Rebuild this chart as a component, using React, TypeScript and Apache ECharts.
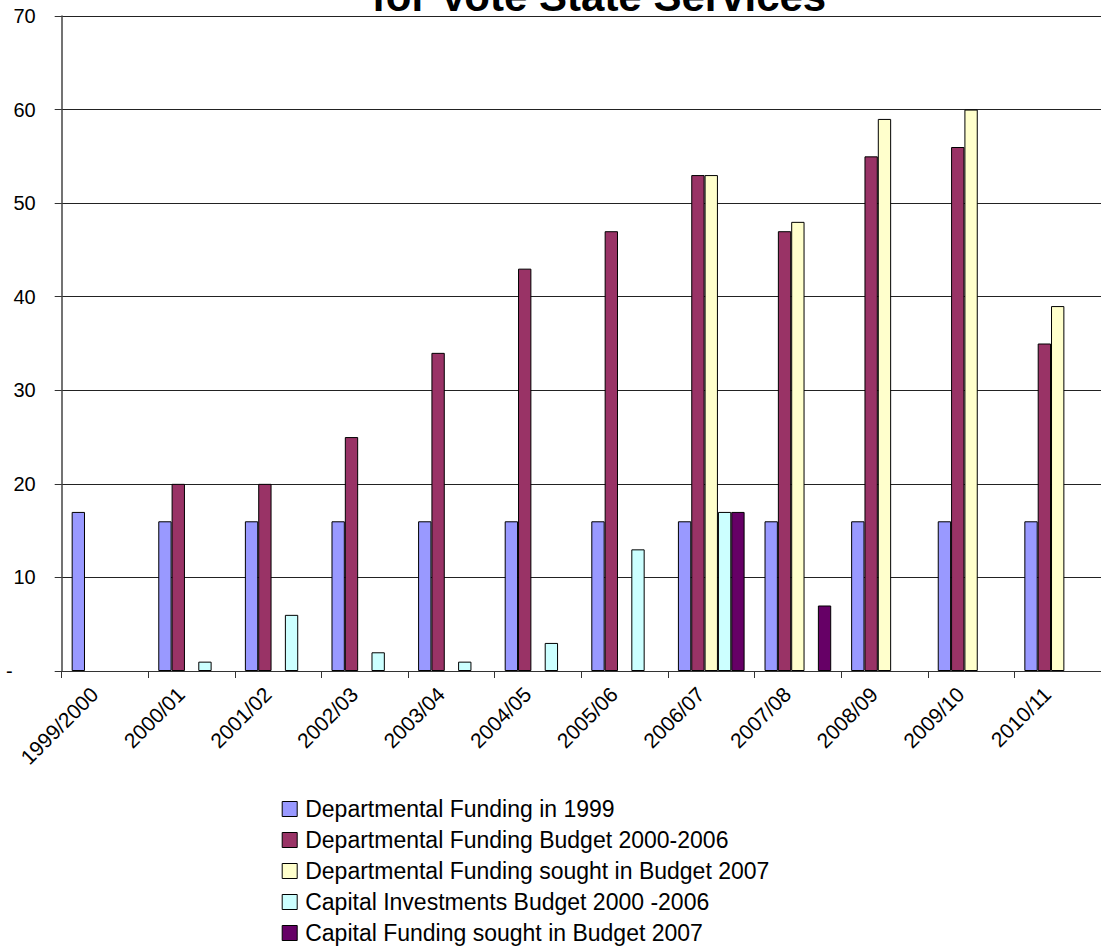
import React, { useEffect, useRef } from "react";
import * as echarts from "echarts";

const categories = [
  "1999/2000", "2000/01", "2001/02", "2002/03", "2003/04", "2004/05",
  "2005/06", "2006/07", "2007/08", "2008/09", "2009/10", "2010/11",
];
const deptFunding1999 = [17, 16, 16, 16, 16, 16, 16, 16, 16, 16, 16, 16];
const deptBudget2000_2006 = [null, 20, 20, 25, 34, 43, 47, 53, 47, 55, 56, 35];
const deptSought2007 = [null, null, null, null, null, null, null, 53, 48, 59, 60, 39];
const capitalInvest2000_2006 = [null, 1, 6, 2, 1, 3, 13, 17, null, null, null, null];
const capitalSought2007 = [null, null, null, null, null, null, null, 17, 7, null, null, null];

const seriesNames = [
  "Departmental Funding in 1999",
  "Departmental Funding Budget 2000-2006",
  "Departmental Funding sought in Budget 2007",
  "Capital Investments Budget 2000 -2006",
  "Capital Funding sought in Budget 2007",
];
const seriesData = [
  deptFunding1999,
  deptBudget2000_2006,
  deptSought2007,
  capitalInvest2000_2006,
  capitalSought2007,
];
const colors = ["#9999FF", "#993366", "#FFFFCC", "#CCFFFF", "#660066"];

const FONT = "Liberation Sans, Arial, sans-serif";

export default function App() {
  const ref = useRef<HTMLDivElement>(null);
  useEffect(() => {
    if (!ref.current) return;
    const chart = echarts.init(ref.current, null, { renderer: "svg" });
    chart.setOption({
      animation: false,
      backgroundColor: "#ffffff",
      textStyle: { fontFamily: FONT },
      graphic: [
        {
          type: "text",
          x: 599,
          y: -3.5,
          style: {
            text: "for Vote State Services",
            fontFamily: FONT,
            fontWeight: "bold",
            fontSize: 42,
            fill: "#000",
            align: "center",
            verticalAlign: "middle",
          },
        },
      ],
      grid: { left: 61.7, right: 0, top: 16, bottom: 278, containLabel: false },
      legend: {
        orient: "vertical",
        left: 276.7,
        top: 792.5,
        height: 220,
        itemWidth: 15,
        itemHeight: 15,
        itemGap: 8,
        icon: "rect",
        textStyle: { fontSize: 23, color: "#000", fontFamily: FONT, padding: [0, 0, 0, 3] },
        itemStyle: { borderColor: "#000", borderWidth: 1 },
        data: seriesNames,
      },
      xAxis: {
        type: "category",
        data: categories,
        boundaryGap: true,
        axisLine: { show: true, lineStyle: { color: "#333", width: 1 } },
        axisTick: { show: true, length: 7, lineStyle: { color: "#333" } },
        axisLabel: {
          interval: 0,
          rotate: 45,
          fontSize: 21,
          color: "#000",
          fontFamily: FONT,
          margin: 9,
          padding: [0, 15, 0, 0],
        },
        splitLine: { show: false },
      },
      yAxis: {
        type: "value",
        min: 0,
        max: 70,
        interval: 10,
        axisLine: { show: true, lineStyle: { color: "#444", width: 1.5 } },
        axisTick: { show: true, length: 7, lineStyle: { color: "#333" } },
        axisLabel: {
          fontSize: 20,
          color: "#000",
          fontFamily: FONT,
          margin: 26,
          formatter: (v: number) => (v === 0 ? "{d|-}" : String(v)),
          rich: { d: { fontSize: 20, color: "#000", fontFamily: FONT, padding: [0, 23, 0, 0] } },
        },
        splitLine: { show: true, lineStyle: { color: "#222", width: 1 } },
      },
      series: seriesNames.map((name, i) => ({
        name,
        type: "bar",
        data: seriesData[i],
        barGap: "0%",
        barCategoryGap: "23%",
        itemStyle: { color: colors[i], borderColor: "#000", borderWidth: 1 },
      })),
    });
    return () => chart.dispose();
  }, []);
  return (
    <div
      ref={ref}
      style={{ position: "absolute", left: 0, top: 0, width: 1101, height: 949 }}
    />
  );
}
